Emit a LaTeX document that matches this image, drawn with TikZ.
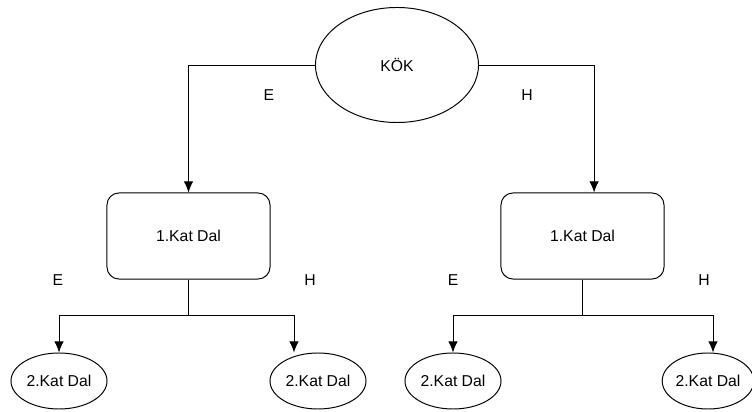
\documentclass[tikz,border=0pt]{standalone}
\usepackage{fontspec}
\setmainfont{Liberation Sans}
\usetikzlibrary{arrows.meta, shapes.geometric}

\begin{document}
\begin{tikzpicture}[>={Latex[length=2.8mm, width=2.4mm]},
  x=0.025cm, y=-0.025cm, line width=0.7pt,
  font=\fontsize{11.2}{13}\selectfont,
  kok/.style={draw, ellipse, minimum width=4.075cm, minimum height=2.875cm, inner sep=0pt},
  dal/.style={draw, rounded corners=3mm, minimum width=4.075cm, minimum height=2.15cm, align=center},
  yaprak/.style={draw, ellipse, minimum width=2.4cm, minimum height=1.4cm, inner sep=0pt},
  etiket/.style={inner sep=1pt}]

\useasboundingbox (0,0) rectangle (752,412);

% ---- root ------------------------------------------------------------------------
\node[kok] (root) at (397,65) {KÖK};

% ---- first level -----------------------------------------------------------------
\node[dal] (dal1) at (188.5,236) {1.Kat Dal};
\node[dal] (dal2) at (582.5,236) {1.Kat Dal};

% ---- second level ----------------------------------------------------------------
\node[yaprak] (yap1) at (59,381)  {2.Kat Dal};
\node[yaprak] (yap2) at (318,381) {2.Kat Dal};
\node[yaprak] (yap3) at (453,381) {2.Kat Dal};
\node[yaprak, minimum width=2.2cm] (yap4) at (708,381) {2.Kat Dal};

% ---- labels ----------------------------------------------------------------------
\node[etiket] (e0) at (269,95)  {E};
\node[etiket] (h0) at (527,95)  {H};
\node[etiket] (e1) at (58,280)  {E};
\node[etiket] (h1) at (310,280) {H};
\node[etiket] (e2) at (453,280) {E};
\node[etiket] (h2) at (704,280) {H};

\draw[->] (root.west) -| (dal1.north);
\draw[->] (root.east) -| ([xshift=2.9mm]dal2.north);

\draw[->] (dal1.south) -- ++(0,36) coordinate (j1) -| (yap1.north);
\draw[->] (j1) -| ([xshift=-6mm]yap2.north);
\draw[->] (dal2.south) -- ++(0,36) coordinate (j2) -| (yap3.north);
\draw[->] (j2) -| ([xshift=1.25mm]yap4.north);

\end{tikzpicture}
\end{document}
